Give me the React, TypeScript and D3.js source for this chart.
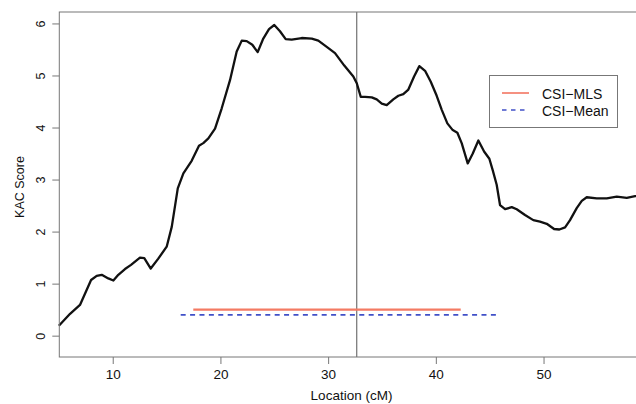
import React, { useEffect, useRef } from "react";
import * as d3 from "d3";

// KAC score profile along the chromosome
const locations = [
  5.0, 6.04, 6.96, 7.99, 8.51, 8.98, 9.59, 10.06, 10.52, 11.14, 11.7, 12.53, 12.93, 13.53,
  14.23, 15.01, 15.48, 16.04, 16.56, 17.33, 18.01, 18.41, 18.88, 19.5, 20.12, 20.89, 21.51,
  21.98, 22.44, 22.96, 23.46, 23.98, 24.51, 25.0, 25.53, 26.06, 26.62, 27.55, 28.48, 29.09,
  29.87, 30.64, 31.5, 32.34, 32.66, 33.03, 33.43, 34.05, 34.51, 34.98, 35.44, 36.05, 36.52,
  36.98, 37.45, 37.98, 38.47, 39.0, 39.53, 40.08, 40.55, 41.07, 41.57, 42.0, 42.4, 42.96,
  43.43, 43.95, 44.48, 44.97, 45.28, 45.65, 45.96, 46.43, 47.05, 47.51, 48.28, 49.05, 49.67,
  50.3, 50.98, 51.47, 52.0, 52.46, 53.08, 53.55, 54.01, 54.94, 55.87, 56.8, 57.73, 58.5, 59.2,
];
const kacScores = [
  0.19, 0.42, 0.59, 1.07, 1.15, 1.17, 1.1, 1.06, 1.17, 1.28, 1.36, 1.5, 1.49, 1.29,
  1.48, 1.71, 2.09, 2.83, 3.12, 3.36, 3.65, 3.7, 3.79, 3.98, 4.37, 4.91, 5.46,
  5.67, 5.66, 5.59, 5.45, 5.71, 5.89, 5.97, 5.85, 5.7, 5.69, 5.72, 5.71, 5.67,
  5.55, 5.43, 5.19, 4.98, 4.85, 4.59, 4.59, 4.58, 4.54, 4.46, 4.43, 4.54, 4.61,
  4.64, 4.73, 4.98, 5.18, 5.09, 4.88, 4.61, 4.34, 4.08, 3.95, 3.9, 3.7, 3.31,
  3.5, 3.75, 3.54, 3.4, 3.18, 2.9, 2.51, 2.43, 2.47, 2.43, 2.32, 2.22, 2.19,
  2.15, 2.05, 2.04, 2.08, 2.22, 2.45, 2.59, 2.66, 2.64, 2.64, 2.67, 2.65, 2.68, 2.69,
];

// vertical marker and confidence intervals
const peakLocation = 32.66;
const csiMls = [17.48, 42.31];
const csiMlsLevel = 0.5;
const csiMean = [16.31, 45.65];
const csiMeanLevel = 0.4;

const xTicks = [10, 20, 30, 40, 50];
const yTicks = [0, 1, 2, 3, 4, 5, 6];
const legendLabels = ["CSI\u2212MLS", "CSI\u2212Mean"];

const font = '"Liberation Sans", Arial, Helvetica, sans-serif';
const red = "#f0553d";
const blue = "#4050c8";

const App = () => {
  const ref = useRef<SVGGElement>(null);

  useEffect(() => {
    const g = d3.select(ref.current);
    g.selectAll("*").remove();

    const left = 59.3, right = 643.7, top = 12, bottom = 357;
    const x = d3.scaleLinear().domain([5.04, 59.3]).range([left, right]);
    const y = d3.scaleLinear().domain([-0.41, 6.22]).range([bottom, top]);

    const data = locations.map((l, i) => ({ l, s: kacScores[i] }));

    // peak line
    g.append("line")
      .attr("x1", x(peakLocation)).attr("x2", x(peakLocation))
      .attr("y1", top).attr("y2", bottom)
      .attr("stroke", "#555").attr("stroke-width", 1);

    // CSI intervals
    g.append("line")
      .attr("x1", x(csiMls[0])).attr("x2", x(csiMls[1]))
      .attr("y1", y(csiMlsLevel)).attr("y2", y(csiMlsLevel))
      .attr("stroke", "#f47a63").attr("stroke-width", 2.2);
    g.append("line")
      .attr("x1", x(csiMean[0])).attr("x2", x(csiMean[1]))
      .attr("y1", y(csiMeanLevel)).attr("y2", y(csiMeanLevel))
      .attr("stroke", blue).attr("stroke-width", 1.8)
      .attr("stroke-dasharray", "5,4.4");

    // curve
    const line = d3.line<{ l: number; s: number }>()
      .x(d => x(d.l))
      .y(d => y(d.s));
    g.append("path")
      .datum(data)
      .attr("d", line)
      .attr("fill", "none")
      .attr("stroke", "#111")
      .attr("stroke-width", 2.3)
      .attr("stroke-linejoin", "round");

    // box
    g.append("rect")
      .attr("x", left).attr("y", top)
      .attr("width", right - left).attr("height", bottom - top)
      .attr("fill", "none").attr("stroke", "#777").attr("stroke-width", 1);

    // x axis
    const xAxisG = g.append("g")
      .attr("transform", `translate(0, ${bottom})`)
      .call(d3.axisBottom(x).tickValues(xTicks).tickFormat(d3.format("d")).tickSize(7).tickSizeOuter(0));
    xAxisG.select(".domain").remove();
    xAxisG.selectAll("line").attr("stroke", "#777");
    xAxisG.selectAll("text")
      .attr("font-family", font).attr("font-size", 13.5).attr("fill", "#111")
      .attr("y", 22).attr("dy", null);

    // y axis, labels rotated like base R
    const yAxisG = g.append("g")
      .attr("transform", `translate(${left}, 0)`)
      .call(d3.axisLeft(y).tickValues(yTicks).tickFormat(d3.format("d")).tickSize(7).tickSizeOuter(0));
    yAxisG.select(".domain").remove();
    yAxisG.selectAll("line").attr("stroke", "#777");
    yAxisG.selectAll("text")
      .attr("font-family", font).attr("font-size", 12.5).attr("fill", "#111")
      .attr("x", null).attr("dy", null)
      .attr("text-anchor", "middle")
      .attr("transform", "translate(-14, 0) rotate(-90)");

    // axis titles
    g.append("text")
      .attr("x", (left + right) / 2).attr("y", 400)
      .attr("text-anchor", "middle")
      .attr("font-family", font).attr("font-size", 13.5).attr("fill", "#111")
      .text("Location (cM)");
    g.append("text")
      .attr("transform", `translate(24, 187) rotate(-90)`)
      .attr("text-anchor", "middle")
      .attr("font-family", font).attr("font-size", 12.5).attr("fill", "#111")
      .text("KAC Score");

    // legend
    const lg = g.append("g");
    lg.append("rect")
      .attr("x", 489.5).attr("y", 75.5).attr("width", 128).attr("height", 52)
      .attr("fill", "#fff").attr("stroke", "#777").attr("stroke-width", 1);
    const styles = [
      { color: red, dash: null },
      { color: blue, dash: "4.5,4.5" },
    ];
    legendLabels.forEach((label, i) => {
      const ly = 93 + i * 17;
      lg.append("line")
        .attr("x1", 502).attr("x2", 529).attr("y1", ly).attr("y2", ly)
        .attr("stroke", styles[i].color).attr("stroke-width", 1.3)
        .attr("stroke-dasharray", styles[i].dash);
      lg.append("text")
        .attr("x", 542).attr("y", ly + 5.5)
        .attr("font-family", font).attr("font-size", 14).attr("fill", "#111")
        .text(label);
    });
  }, []);

  return (
    <svg width={636} height={404} style={{ position: "absolute", left: 0, top: 0, background: "#fff" }}>
      <g ref={ref} />
    </svg>
  );
};

export default App;
